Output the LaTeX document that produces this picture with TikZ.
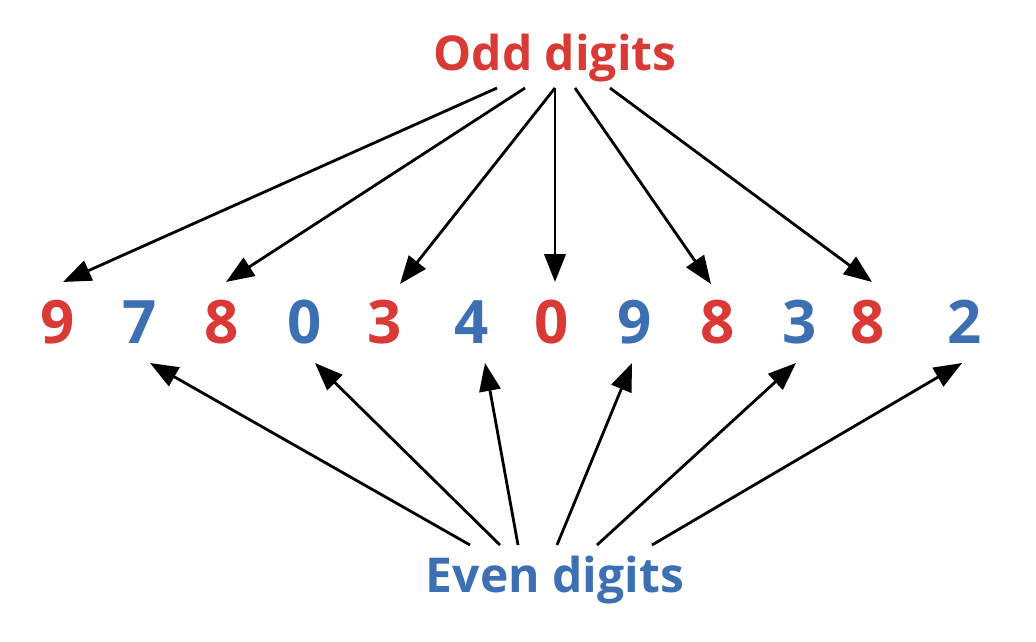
\documentclass[tikz,border=0pt]{standalone}
\usepackage{fontspec}
\setmainfont{Open Sans}
\usetikzlibrary{arrows.meta}
\definecolor{oddred}{HTML}{D93A35}
\definecolor{evenblue}{HTML}{3D70B2}
\begin{document}
\begin{tikzpicture}[x=0.75pt, y=-0.75pt,
    digit/.style={font=\fontsize{45}{45}\selectfont\bfseries, inner sep=0pt},
    title/.style={font=\fontsize{36}{36}\selectfont\bfseries, inner sep=0pt},
    link/.style={line width=2.1pt, -{Triangle[length=21pt,width=16pt]}}]

    % ---------- Frame ----------
    \useasboundingbox (0,0) rectangle (1036,642);

    % ---------- Labels ----------
    \node[title, text=oddred] (odd) at (555,58) {Odd digits};
    \node[title, text=evenblue] (even) at (555,580) {Even digits};

    % ---------- Digits ----------
    \foreach \i/\d/\x/\c in {1/9/58/oddred, 2/7/140/evenblue, 3/8/222/oddred,
        4/0/305/evenblue, 5/3/385/oddred, 6/4/472/evenblue, 7/0/552/oddred,
        8/9/635/evenblue, 9/8/718/oddred, 10/3/800/evenblue, 11/8/868/oddred,
        12/2/965/evenblue} {
        \node[digit, text=\c] (d\i) at (\x,322) {\d};
    }

    % ---------- Arrow ends ----------
    \foreach \n/\x in {o1/497, o2/525, o3/555, o5/575, o6/610}
        \coordinate (\n) at (\x,88);
    \foreach \n/\x in {e1/470, e2/500, e3/518, e4/557, e5/597, e6/652}
        \coordinate (\n) at (\x,545);
    \foreach \n/\x/\y in {t1/63/282, t2/226/282, t3/400/284, t4/555/282,
        t5/711/284, t6/872/282}
        \coordinate (\n) at (\x,\y);
    \foreach \n/\x in {b1/150, b2/315, b3/485, b4/632, b5/796, b6/962}
        \coordinate (\n) at (\x,363);

    % ---------- Odd arrows ----------
    \draw[link] (o1) -- (t1);
    \draw[link] (o2) -- (t2);
    \draw[link] (o3) -- (t3);
    \draw[link] (o3) -- (t4);
    \draw[link] (o5) -- (t5);
    \draw[link] (o6) -- (t6);

    % ---------- Even arrows ----------
    \foreach \i in {1,...,6}
        \draw[link] (e\i) -- (b\i);

\end{tikzpicture}
\end{document}
